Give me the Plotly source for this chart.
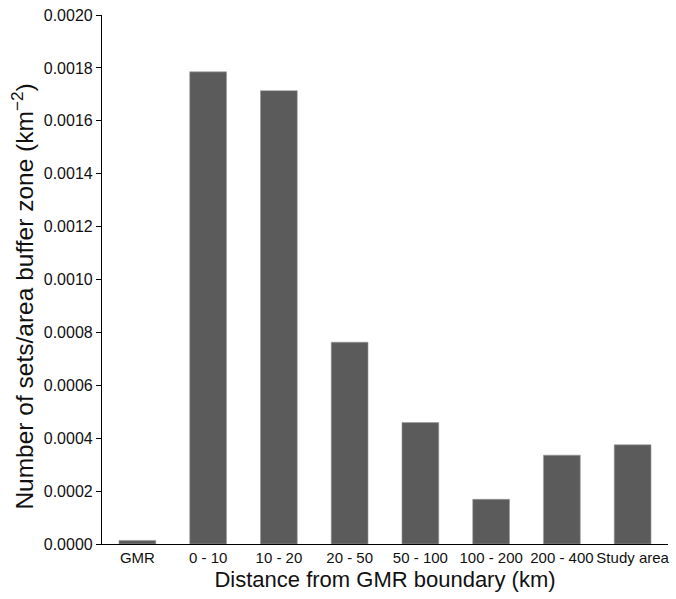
import plotly.graph_objects as go

# Buffer zones around the GMR boundary and density of sets per km²
zones = ["GMR", "0 - 10", "10 - 20", "20 - 50", "50 - 100", "100 - 200", "200 - 400", "Study area"]
sets_per_area = [0.0000136, 0.001785, 0.001714, 0.000763, 0.000459, 0.000169, 0.000336, 0.000375]

y_ticks = [0.0000, 0.0002, 0.0004, 0.0006, 0.0008, 0.0010, 0.0012, 0.0014, 0.0016, 0.0018, 0.0020]

fig = go.Figure(
    go.Bar(
        x=zones,
        y=sets_per_area,
        width=0.52,
        marker=dict(color="#5b5b5b", line=dict(color="#9a9a9a", width=0.6)),
        hoverinfo="x+y",
    )
)

fig.update_layout(
    width=676,
    height=599,
    margin=dict(l=102, r=8, t=15, b=55),
    paper_bgcolor="white",
    plot_bgcolor="white",
    showlegend=False,
    font=dict(family="Liberation Sans, Arial, sans-serif", color="#111111"),
)

fig.update_xaxes(
    showline=True,
    linecolor="black",
    linewidth=1.2,
    ticks="",
    showgrid=False,
    tickangle=0,
    automargin=False,
    tickfont=dict(size=15),
    title=dict(text="Distance from GMR boundary (km)", font=dict(size=22), standoff=6),
)

fig.update_yaxes(
    range=[0, 0.002],
    tickvals=y_ticks,
    tickformat=".4f",
    showline=True,
    linecolor="black",
    linewidth=1.2,
    ticks="outside",
    ticklen=5,
    tickcolor="black",
    showgrid=False,
    zeroline=False,
    automargin=False,
    tickfont=dict(size=16),
)

# Vertical y-axis title, placed slightly below the plot's mid-height
fig.add_annotation(
    text="Number of sets/area buffer zone (km<sup>−2</sup>)",
    xref="paper", yref="paper",
    x=-0.141, y=0.468,
    xanchor="center", yanchor="middle",
    textangle=-90,
    showarrow=False,
    font=dict(size=24.5),
)

fig.write_html("out.html")
